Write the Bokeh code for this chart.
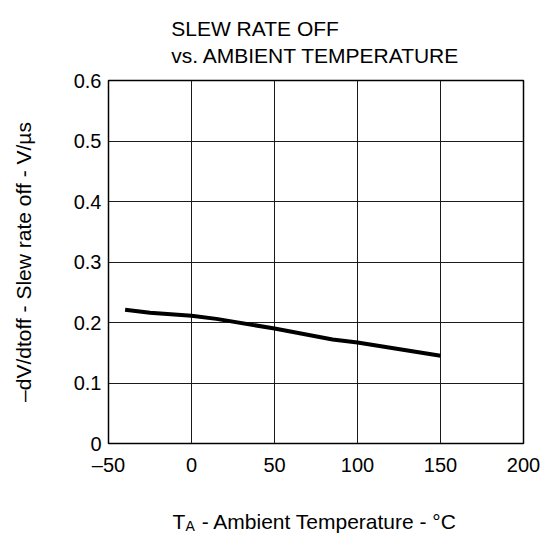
import math
from bokeh.plotting import figure
from bokeh.models import FixedTicker, Label, Range1d
from bokeh.embed import file_html
from bokeh.resources import INLINE

# Data
temp_c = [-40, -25, 0, 15, 50, 85, 100, 150]
slew_rate = [0.221, 0.216, 0.211, 0.206, 0.190, 0.172, 0.167, 0.145]

x_ticks = [-50, 0, 50, 100, 150, 200]
x_tick_labels = ["\u201350", "0", "50", "100", "150", "200"]
y_ticks = [0, 0.1, 0.2, 0.3, 0.4, 0.5, 0.6]
y_tick_labels = ["0", "0.1", "0.2", "0.3", "0.4", "0.5", "0.6"]

title_lines = ["SLEW RATE OFF", "vs. AMBIENT TEMPERATURE"]
y_label = "\u2013dV/dtoff - Slew rate off - V/\u00b5s"
x_label_main = "T\u2002 - Ambient Temperature - \u00b0C"
x_label_sub = "A"

FONT = "Liberation Sans"

p = figure(width=543, height=533, output_backend="svg", toolbar_location=None,
           x_range=Range1d(-50, 200), y_range=Range1d(0, 0.6),
           min_border_left=108, min_border_right=20,
           min_border_top=80, min_border_bottom=90)
p.background_fill_color = "white"
p.border_fill_color = "white"
p.outline_line_color = "black"
p.outline_line_width = 1.5

p.line(temp_c, slew_rate, line_color="black", line_width=4)

for ax in (p.xaxis[0], p.yaxis[0]):
    ax.axis_line_color = None
    ax.major_tick_line_color = None
    ax.minor_tick_line_color = None
    ax.major_tick_out = 0
    ax.major_tick_in = 0
    ax.minor_tick_out = 0
    ax.minor_tick_in = 0
    ax.major_label_text_font = FONT
    ax.major_label_text_font_size = "20px"
    ax.major_label_text_color = "black"

p.xaxis.ticker = FixedTicker(ticks=x_ticks)
p.yaxis.ticker = FixedTicker(ticks=y_ticks)
p.xaxis.major_label_overrides = {t: l for t, l in zip(x_ticks, x_tick_labels)}
p.yaxis.major_label_overrides = {t: l for t, l in zip(y_ticks, y_tick_labels)}
p.xaxis.major_label_standoff = 10
p.yaxis.major_label_standoff = 7

p.xgrid.ticker = FixedTicker(ticks=x_ticks)
p.ygrid.ticker = FixedTicker(ticks=y_ticks)
for g in (p.xgrid[0], p.ygrid[0]):
    g.grid_line_color = "#1a1a1a"
    g.grid_line_width = 1

def txt(text, x, y, size="21px", place="below", **kw):
    p.add_layout(Label(x=x, y=y, text=text, text_font=FONT, text_font_size=size,
                       text_color="black", **kw), place)

# Title (two lines, left aligned) in the top panel
txt(title_lines[1], -12.2, 0.6413, place="above",
    text_baseline="alphabetic", text_align="left")
txt(title_lines[0], -12.2, 0.6855, place="above",
    text_baseline="alphabetic", text_align="left")

# Y axis label in the left panel
txt(y_label, -101.5, 0.3, place="left", angle=math.pi / 2,
    text_baseline="middle", text_align="center")

# X axis label with subscript in the bottom panel
txt(x_label_sub, -11.45, -0.1289, size="14px", place="below", x_offset=13,
    y_offset=-5, text_baseline="alphabetic", text_align="left")
txt(x_label_main, -11.45, -0.1289, place="below",
    text_baseline="alphabetic", text_align="left")

open("out.html", "w").write(file_html(p, INLINE))
